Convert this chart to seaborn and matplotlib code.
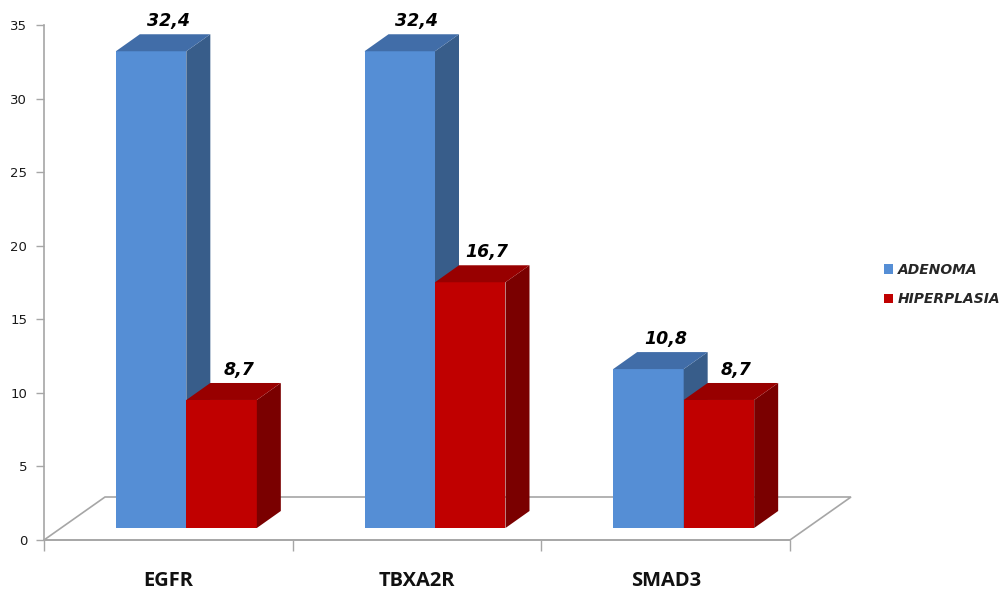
import matplotlib
matplotlib.use("Agg")
import matplotlib.pyplot as plt
import pandas as pd
import seaborn as sns
from matplotlib.patches import Polygon
from matplotlib.transforms import offset_copy

# Data
genes = ["EGFR", "TBXA2R", "SMAD3"]
groups = ["ADENOMA", "HIPERPLASIA"]
adenoma = [32.4, 32.4, 10.8]
hiperplasia = [8.7, 16.7, 8.7]

# Face colours of the pseudo-3D boxes
front_col = {"ADENOMA": "#558ED5", "HIPERPLASIA": "#C00000"}
top_col = {"ADENOMA": "#416DA8", "HIPERPLASIA": "#980000"}
side_col = {"ADENOMA": "#385D8A", "HIPERPLASIA": "#7A0000"}
grid_col = "#A6A6A6"

df = pd.DataFrame({
    "gene": genes * 2,
    "grupo": [groups[0]] * len(genes) + [groups[1]] * len(genes),
    "valor": adenoma + hiperplasia,
})

sns.set_theme(style="white")
plt.rcParams["font.family"] = ["DejaVu Sans"]

W, H = 1008, 590
fig = plt.figure(figsize=(W / 100, H / 100), dpi=100)
ax = fig.add_axes([44 / W, 50 / H, 746 / W, 515 / H])

sns.barplot(data=df, x="gene", y="valor", hue="grupo", hue_order=groups,
            palette=front_col, width=0.567, saturation=1, ax=ax,
            edgecolor="none", linewidth=0, errorbar=None)

ax.set_xlim(-0.5, 2.5)
ax.set_ylim(0, 35)
ax.set_xlabel("")
ax.set_ylabel("")

ppx = ax.bbox.width / 3.0
ppy = ax.bbox.height / 35.0

# Floor of the 3D box
fdx, fdy = 61 / ppx, 43 / ppy
floor = Polygon([(-0.5, 0), (2.5, 0), (2.5 + fdx, fdy), (-0.5 + fdx, fdy)],
                closed=True, facecolor="white", edgecolor=grid_col, lw=1.2,
                zorder=1, clip_on=False)
ax.add_patch(floor)

# Bars sit part-way back into the floor depth
shift = offset_copy(ax.transData, fig=fig, x=18, y=12, units="dots")
dx, dy = 24 / ppx, 17 / ppy

for gi, (grp, cont) in enumerate(zip(groups, ax.containers)):
    z = 2 + gi
    for bar in cont:
        bar.set_transform(shift)
        bar.set_zorder(z)
        bar.set_clip_on(False)
        x0, w, h = bar.get_x(), bar.get_width(), bar.get_height()
        side = Polygon([(x0 + w, 0), (x0 + w + dx, dy), (x0 + w + dx, h + dy), (x0 + w, h)],
                       closed=True, facecolor=side_col[grp], edgecolor="none",
                       transform=shift, zorder=z + 0.1, clip_on=False)
        top = Polygon([(x0, h), (x0 + w, h), (x0 + w + dx, h + dy), (x0 + dx, h + dy)],
                      closed=True, facecolor=top_col[grp], edgecolor="none",
                      transform=shift, zorder=z + 0.2, clip_on=False)
        ax.add_patch(side)
        ax.add_patch(top)
        ax.annotate(f"{h:.1f}".replace(".", ","), xy=(x0 + w / 2, h), xycoords=shift,
                    xytext=(17, 30), textcoords="offset pixels", ha="center", va="center",
                    fontsize=12.5, fontweight="bold", fontstyle="italic", color="black",
                    annotation_clip=False, zorder=6)

# Axes styling
for s in ["top", "right"]:
    ax.spines[s].set_visible(False)
for s in ["left", "bottom"]:
    ax.spines[s].set_color(grid_col)
    ax.spines[s].set_linewidth(1.2)
    ax.spines[s].set_zorder(1.5)

ax.set_yticks(range(0, 36, 5))
ax.tick_params(axis="y", which="major", direction="out", length=6, width=1,
               color=grid_col, labelsize=9.5, labelcolor="#1a1a1a", pad=6, left=True)
ax.set_xticks(range(len(genes)))
ax.set_xticklabels(genes, fontfamily="Open Sans", fontweight="bold", fontsize=14.5, color="#111111")
ax.set_xticks([-0.5, 0.5, 1.5, 2.5], minor=True)
ax.tick_params(axis="x", which="major", length=0, pad=22)
ax.tick_params(axis="x", which="minor", direction="out", length=8, width=1,
               color=grid_col, bottom=True)

handles, labels = ax.get_legend_handles_labels()
ax.legend(handles, labels, loc="upper left", bbox_to_anchor=(884 / W, 1 - 263 / H),
          bbox_transform=fig.transFigure, frameon=False,
          prop=dict(weight="bold", style="italic", size=10),
          handlelength=0.65, handleheight=0.65, handletextpad=0.35,
          labelspacing=1.1, borderaxespad=0, borderpad=0)

fig.savefig("out.png", dpi=100, facecolor="white")
